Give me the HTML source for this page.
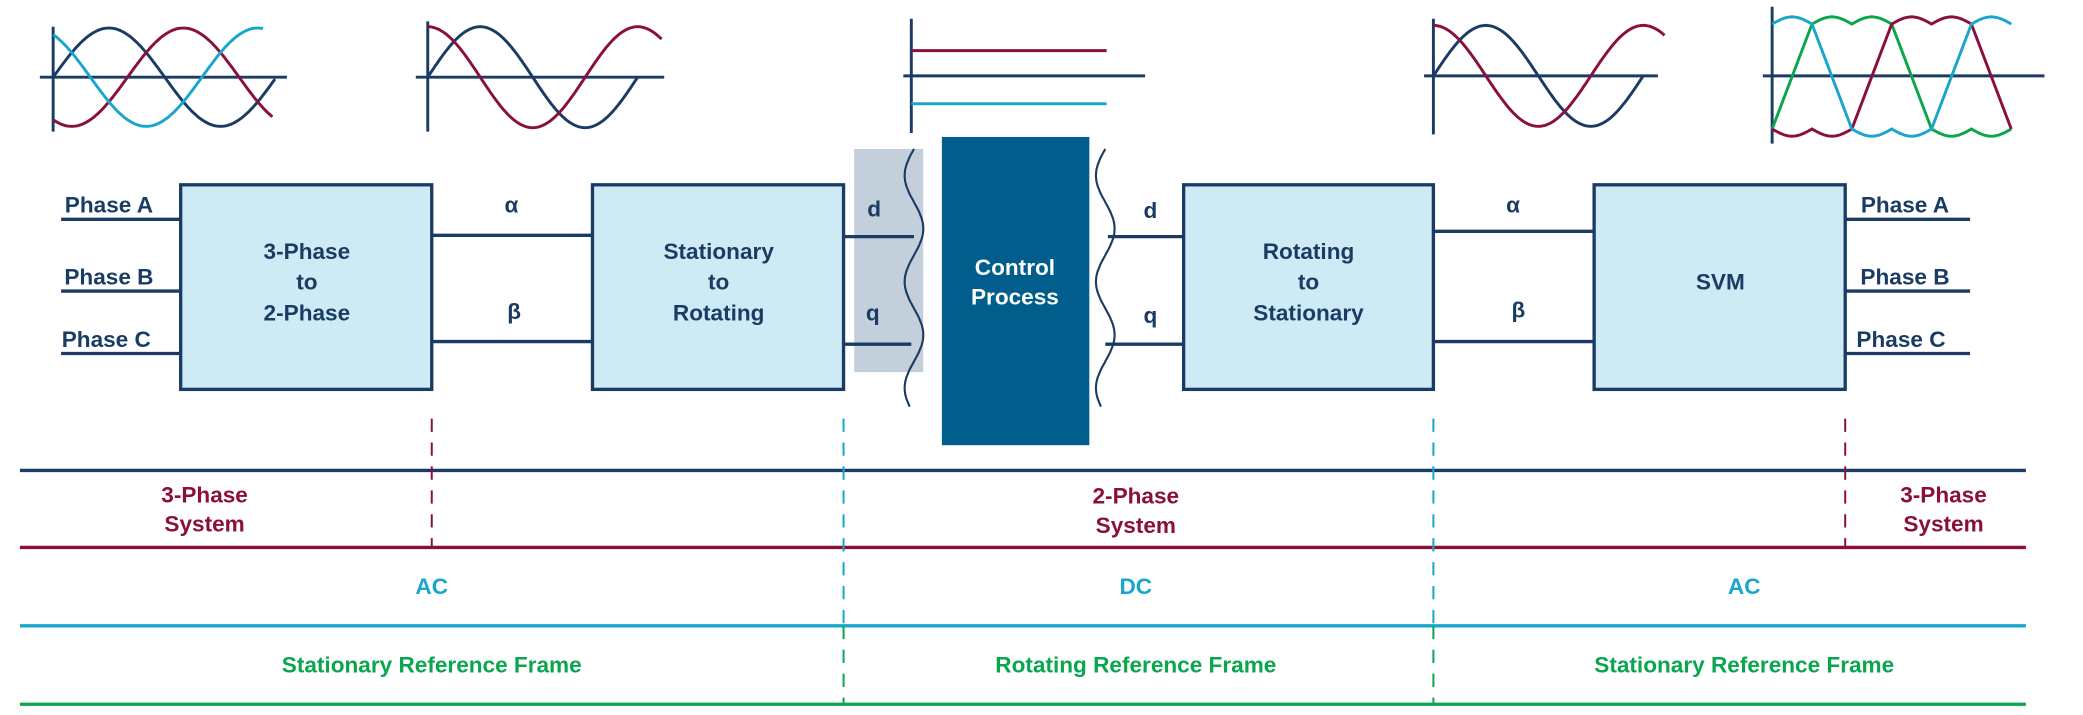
<!DOCTYPE html>
<html><head><meta charset="utf-8"><style>
html,body{margin:0;padding:0;background:#fff;}
svg{display:block}
text{font-family:"Liberation Sans",Arial,sans-serif;font-weight:bold;font-size:17px;text-anchor:middle}
</style></head><body>
<svg id="s" width="2083" height="715" viewBox="0 0 1568 538" xmlns="http://www.w3.org/2000/svg">
<g fill="none" stroke-width="2.2">
<g stroke="#1a3c64">
<line x1="40" y1="20" x2="40" y2="99"/><line x1="30" y1="58" x2="216" y2="58"/>
<line x1="322" y1="16" x2="322" y2="99"/><line x1="313" y1="58" x2="500" y2="58"/>
<line x1="686" y1="14" x2="686" y2="100"/><line x1="680" y1="57" x2="862" y2="57"/>
<line x1="1079" y1="14" x2="1079" y2="101"/><line x1="1072" y1="57" x2="1248" y2="57"/>
<line x1="1334" y1="5" x2="1334" y2="108"/><line x1="1327" y1="57" x2="1539" y2="57"/>
</g>
<line x1="686" y1="38" x2="833" y2="38" stroke="#8a0f3c"/>
<line x1="686" y1="78" x2="833" y2="78" stroke="#1aa6cc"/>
<g id="curves"></g>
</g>

<rect x="643" y="112" width="52" height="168" fill="#c3cfdb"/>
<rect x="709" y="103" width="111" height="232" fill="#005d8c"/>
<text x="764" y="207" fill="#fff">Control</text>
<text x="764" y="229" fill="#fff">Process</text>

<g fill="#cdeaf5" stroke="#1a3c64" stroke-width="2.5">
<rect x="136" y="139" width="189" height="154"/>
<rect x="446" y="139" width="189" height="154"/>
<rect x="891" y="139" width="188" height="154"/>
<rect x="1200" y="139" width="189" height="154"/>
</g>
<g stroke="#1a3c64" stroke-width="2.5">
<line x1="46" y1="165" x2="136" y2="165"/><line x1="46" y1="219" x2="136" y2="219"/><line x1="46" y1="266" x2="136" y2="266"/>
<line x1="325" y1="177" x2="446" y2="177"/><line x1="325" y1="257" x2="446" y2="257"/>
<line x1="635" y1="178" x2="688" y2="178"/><line x1="635" y1="259" x2="686" y2="259"/>
<line x1="834" y1="178" x2="891" y2="178"/><line x1="832" y1="259" x2="891" y2="259"/>
<line x1="1079" y1="174" x2="1200" y2="174"/><line x1="1079" y1="257" x2="1200" y2="257"/>
<line x1="1389" y1="165" x2="1483" y2="165"/><line x1="1389" y1="219" x2="1483" y2="219"/><line x1="1389" y1="266" x2="1483" y2="266"/>
</g>
<g fill="none" stroke="#1a3c64" stroke-width="1.6">
<path id="w1" d=""/><path id="w2" d=""/>
</g>

<g fill="#1a3c64">
<text x="82" y="160">Phase A</text><text x="82" y="214">Phase B</text><text x="80" y="261">Phase C</text>
<text x="231" y="195">3-Phase</text><text x="231" y="218">to</text><text x="231" y="241">2-Phase</text>
<text x="385" y="160">α</text><text x="387" y="240">β</text>
<text x="541" y="195">Stationary</text><text x="541" y="218">to</text><text x="541" y="241">Rotating</text>
<text x="658" y="163">d</text><text x="657" y="241">q</text>
<text x="866" y="164">d</text><text x="866" y="243">q</text>
<text x="985" y="195">Rotating</text><text x="985" y="218">to</text><text x="985" y="241">Stationary</text>
<text x="1139" y="160">α</text><text x="1143" y="239">β</text>
<text x="1295" y="218">SVM</text>
<text x="1434" y="160">Phase A</text><text x="1434" y="214">Phase B</text><text x="1431" y="261">Phase C</text>
</g>

<line x1="15" y1="354" x2="1525" y2="354" stroke="#1a3c64" stroke-width="2.5"/>
<line x1="15" y1="412" x2="1525" y2="412" stroke="#8a0f3c" stroke-width="2.5"/>
<line x1="15" y1="471" x2="1525" y2="471" stroke="#1aa6cc" stroke-width="2.5"/>
<line x1="15" y1="530" x2="1525" y2="530" stroke="#0aa64e" stroke-width="2.5"/>
<g stroke-width="1.5" stroke-dasharray="10,8">
<line x1="325" y1="315" x2="325" y2="412" stroke="#8a0f3c"/>
<line x1="1389" y1="315" x2="1389" y2="412" stroke="#8a0f3c"/>
<line x1="635" y1="315" x2="635" y2="471" stroke="#1aa6cc"/>
<line x1="1079" y1="315" x2="1079" y2="471" stroke="#1aa6cc"/>
<line x1="635" y1="471" x2="635" y2="530" stroke="#0aa64e"/>
<line x1="1079" y1="471" x2="1079" y2="530" stroke="#0aa64e"/>
</g>
<g fill="#8a0f3c">
<text x="154" y="378">3-Phase</text><text x="154" y="400">System</text>
<text x="855" y="379">2-Phase</text><text x="855" y="401">System</text>
<text x="1463" y="378">3-Phase</text><text x="1463" y="400">System</text>
</g>
<g fill="#1aa6cc"><text x="325" y="447">AC</text><text x="855" y="447">DC</text><text x="1313" y="447">AC</text></g>
<g fill="#0aa64e"><text x="325" y="506">Stationary Reference Frame</text><text x="855" y="506">Rotating Reference Frame</text><text x="1313" y="506">Stationary Reference Frame</text></g>
</svg>
<script>
(function(){
var ns="http://www.w3.org/2000/svg",g=document.getElementById("curves");
function add(d,c){var p=document.createElementNS(ns,"path");p.setAttribute("d",d);p.setAttribute("stroke",c);p.setAttribute("fill","none");p.setAttribute("stroke-width","2.2");g.appendChild(p);}
function sine(x0,x1,y0,A,P,ph,c){var d="";for(var x=x0;x<=x1+0.01;x+=1){var y=y0-A*Math.sin(2*Math.PI*(x-x0)/P+ph);d+=(d?"L":"M")+x.toFixed(1)+" "+y.toFixed(1);}add(d,c);}
var N="#1a3c64",M="#8a0f3c",C="#1aa6cc",G="#0aa64e";
sine(40,207,58,37,168,0,N);sine(40,205,58,37,168,-2*Math.PI/3,M);sine(40,198,58,37,168,2*Math.PI/3,C);
sine(322,480,58,38,158,0,N);sine(322,498,58,38,158,Math.PI/2,M);
sine(1079,1237,57,38,158,0,N);sine(1079,1253,57,38,158,Math.PI/2,M);
var x0=1334,u=30,T=15,B=100;
function top(a,b){var d="";for(var x=a;x<=b;x+=1){var t=(x-x0)/u;var f=Math.abs(Math.sin(Math.PI*(t)));d+="L"+x+" "+(T+3-6*f*0.9).toFixed(1);}return d;}
function bot(a,b){var d="";for(var x=a;x<=b;x+=1){var t=(x-x0)/u;var f=Math.abs(Math.sin(Math.PI*(t)));d+="L"+x+" "+(B-3+6*f*0.9).toFixed(1);}return d;}
function X(k){return x0+k*u;}
add("M"+X(0)+" "+(B-3)+"L"+X(1)+" "+(T+3)+top(X(1),X(3))+"L"+X(4)+" "+(B-3)+bot(X(4),X(6)),G);
add("M"+X(0)+" "+(B-3)+bot(X(0),X(2))+"L"+X(3)+" "+(T+3)+top(X(3),X(5))+"L"+X(6)+" "+(B-3),M);
add("M"+X(0)+" "+(T+3)+top(X(0),X(1))+"L"+X(2)+" "+(B-3)+bot(X(2),X(4))+"L"+X(5)+" "+(T+3)+top(X(5),X(6)),C);
function wave(id,x,amp){var d="";for(var y=112;y<=306;y+=1){var xx=x+amp*Math.sin(2*Math.PI*(y-112)/80);d+=(d?"L":"M")+xx.toFixed(1)+" "+y;}document.getElementById(id).setAttribute("d",d);}
wave("w1",688,-7);wave("w2",832,-7);
})();
</script>
</body></html>
